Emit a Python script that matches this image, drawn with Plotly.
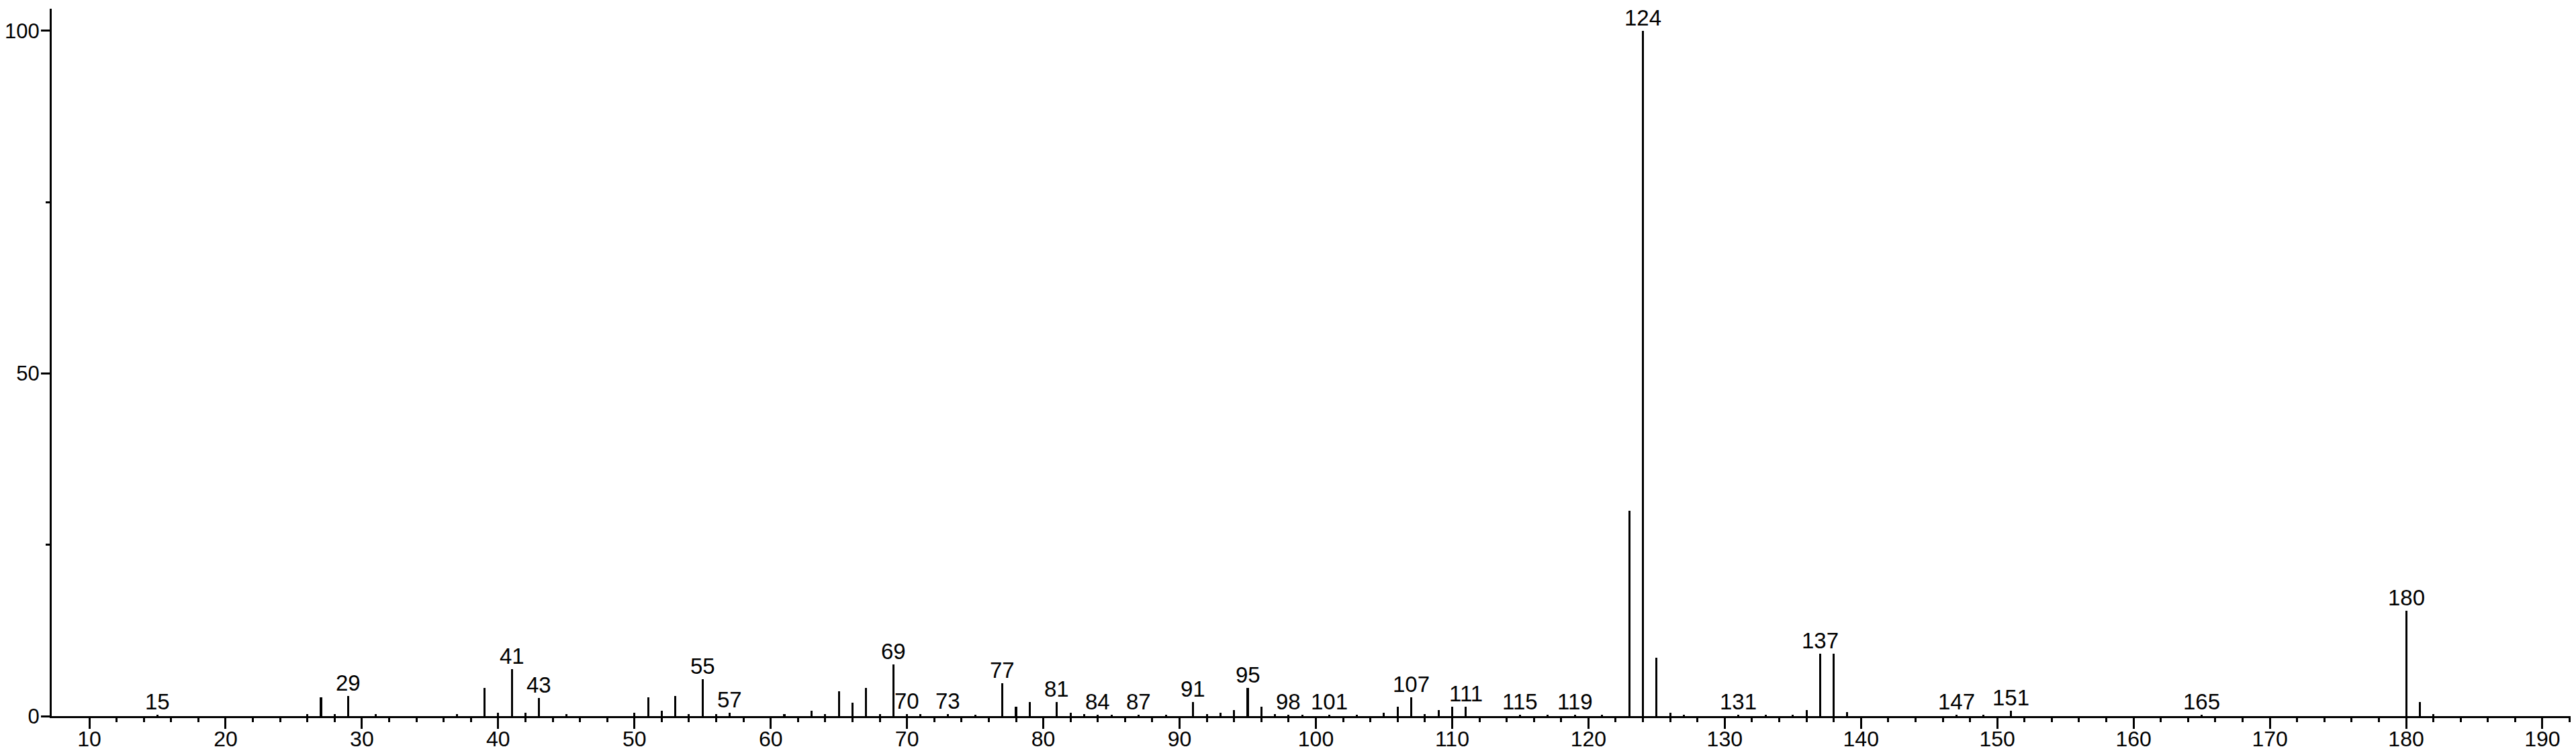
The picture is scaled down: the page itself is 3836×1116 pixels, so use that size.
import plotly.graph_objects as go

# m/z values and relative intensities (%)
mz = [15, 26, 27, 28, 29, 31, 37, 39, 40, 41, 42, 43, 45,
      50, 51, 52, 53, 54, 55, 56, 57, 61, 63, 64, 65, 66, 67, 68, 69, 70, 71, 73, 75,
      77, 78, 79, 81, 82, 83, 84, 85, 87, 89, 91, 92, 93, 94, 95, 96, 97, 98, 99,
      101, 103, 105, 106, 107, 108, 109, 110, 111, 115, 117, 119, 121,
      123, 124, 125, 126, 127, 131, 133, 135, 136, 137, 138, 139,
      147, 149, 151, 165, 180, 181, 182]
intensity = [0.2, 0.3, 2.7, 0.3, 2.9, 0.3, 0.3, 4.15, 0.5, 6.9, 0.5, 2.6, 0.3,
             0.5, 2.7, 0.8, 2.9, 0.3, 5.4, 0.3, 0.5, 0.3, 0.8, 0.3, 3.6, 2.0, 4.15, 0.3, 7.5, 0.3, 0.3, 0.3, 0.2,
             4.8, 1.4, 2.06, 2.06, 0.5, 0.3, 0.2, 0.2, 0.2, 0.2, 2.06, 0.3, 0.5, 0.9, 4.15, 1.4, 0.3, 0.2, 0.2,
             0.2, 0.2, 0.5, 1.4, 2.7, 0.3, 0.9, 1.4, 1.4, 0.2, 0.2, 0.2, 0.2,
             30.0, 100.0, 8.5, 0.5, 0.2, 0.2, 0.2, 0.2, 0.9, 9.1, 9.1, 0.6,
             0.2, 0.2, 0.8, 0.2, 15.4, 2.1, 0.3]

# labelled peaks
labelled_mz = [15, 29, 41, 43, 55, 57, 69, 70, 73, 77, 81, 84, 87, 91, 95, 98, 101,
               107, 111, 115, 119, 124, 131, 137, 147, 151, 165, 180]

x_tick_vals = list(range(10, 191, 10))
x_minor_vals = [v for v in range(10, 193, 2) if v % 10 != 0]
y_tick_vals = [0, 50, 100]
y_minor_vals = [25, 75]

FONT = "Liberation Sans, Arial, sans-serif"

fig = go.Figure()
fig.add_trace(go.Bar(x=mz, y=intensity, width=0.15,
                     marker=dict(color="black", line=dict(width=0))))

lookup = dict(zip(mz, intensity))
for m in labelled_mz:
    fig.add_annotation(x=m, y=lookup.get(m, 0), text=str(m), showarrow=False,
                       xanchor="center", yanchor="bottom", yshift=-1,
                       font=dict(family=FONT, size=33, color="black"))

fig.update_layout(
    width=3836, height=1116,
    margin=dict(l=69, r=0, t=5, b=57),
    paper_bgcolor="white", plot_bgcolor="white",
    showlegend=False, bargap=0,
    font=dict(family=FONT, size=33, color="black"),
)
fig.update_xaxes(range=[7.24, 192.86], showline=True, linecolor="black", linewidth=3,
                 automargin=False,
                 tickmode="array", tickvals=x_tick_vals,
                 ticks="outside", ticklen=16, tickwidth=3, tickcolor="black",
                 ticklabelstandoff=-12,
                 minor=dict(tickmode="array", tickvals=x_minor_vals, ticks="outside",
                            ticklen=6, tickwidth=3, tickcolor="black"),
                 showgrid=False, zeroline=False,
                 tickfont=dict(family=FONT, size=32, color="black"))
fig.update_yaxes(range=[0, 103.2], showline=True, linecolor="black", linewidth=3,
                 automargin=False,
                 tickmode="array", tickvals=y_tick_vals,
                 ticks="outside", ticklen=13, tickwidth=3, tickcolor="black",
                 ticklabelstandoff=-4,
                 minor=dict(tickmode="array", tickvals=y_minor_vals, ticks="outside",
                            ticklen=6, tickwidth=3, tickcolor="black"),
                 showgrid=False, zeroline=False,
                 tickfont=dict(family=FONT, size=31, color="black"))

fig.write_html("out.html")
